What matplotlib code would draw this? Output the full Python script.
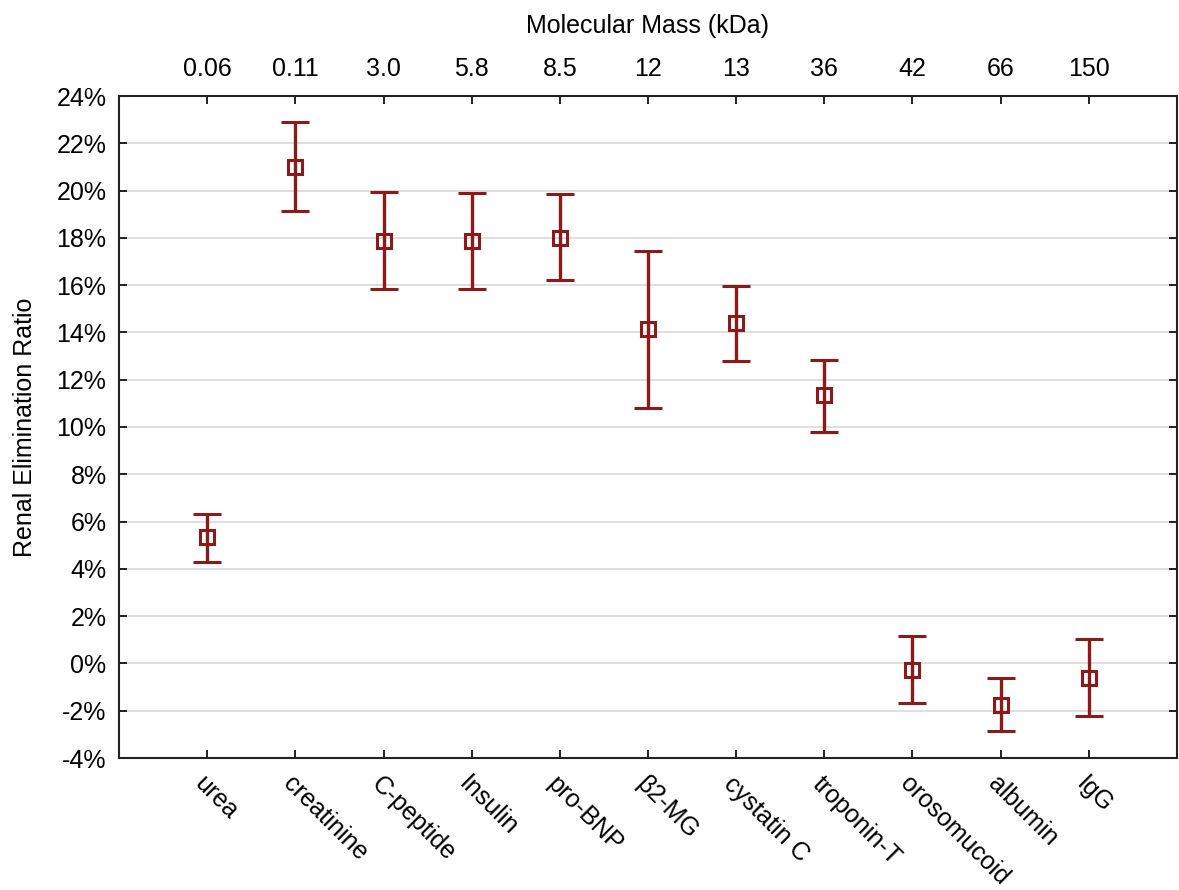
import matplotlib
matplotlib.use("Agg")
import matplotlib.pyplot as plt
from matplotlib.ticker import FuncFormatter

categories = ["urea", "creatinine", "C-peptide", "Insulin", "pro-BNP", "\u03b22-MG",
              "cystatin C", "troponin-T", "orosomucoid", "albumin", "IgG"]
masses = ["0.06", "0.11", "3.0", "5.8", "8.5", "12", "13", "36", "42", "66", "150"]
means = [5.35, 21.0, 17.87, 17.87, 17.99, 14.14, 14.4, 11.35, -0.28, -1.76, -0.62]
upper = [6.32, 22.9, 19.94, 19.9, 19.85, 17.44, 15.96, 12.83, 1.16, -0.62, 1.03]
lower = [4.29, 19.14, 15.84, 15.84, 16.22, 10.80, 12.79, 9.79, -1.68, -2.86, -2.23]

plt.rcParams['font.family'] = ['Liberation Sans', 'DejaVu Sans']
color = "#8B1A1A"
fs = 18

fig = plt.figure(figsize=(11.79, 8.9), dpi=100)
ax = fig.add_axes([119/1179, 1-758/890, (1177-119)/1179, (758-96)/890])

x = list(range(len(categories)))
yerr = [[m - l for m, l in zip(means, lower)], [u - m for m, u in zip(means, upper)]]
ax.errorbar(x, means, yerr=yerr, fmt='s', color=color, ecolor=color,
            elinewidth=2.4, capsize=10, capthick=2.4, markersize=10,
            markerfacecolor='none', markeredgecolor=color, markeredgewidth=2.2, zorder=3)

ax.set_xlim(-1, 11)
ax.set_ylim(-4, 24)
ax.set_yticks(range(-4, 25, 2))
ax.yaxis.set_major_formatter(FuncFormatter(lambda v, p: f"{int(v)}%"))
ax.grid(axis='y', color='#dcdcdc', linewidth=1.3, zorder=0)
ax.set_axisbelow(True)

ax.set_xticks(x)
ax.set_xticklabels(categories, rotation=-45, ha='left', va='top', rotation_mode='anchor')
ax.tick_params(axis='both', direction='in', labelsize=fs, length=6, width=1.2,
               top=True, right=True)
ax.tick_params(axis='x', pad=10)
ax.tick_params(axis='y', pad=9)
for s in ax.spines.values():
    s.set_linewidth(1.5)
    s.set_color('#222222')

ax.set_ylabel("Renal Elimination Ratio", fontsize=fs, labelpad=14)

sec = ax.secondary_xaxis('top')
sec.set_xticks(x)
sec.set_xticklabels(masses)
sec.tick_params(axis='x', direction='in', length=0, labelsize=fs, pad=11)
sec.set_xlabel("Molecular Mass (kDa)", fontsize=fs, labelpad=17)
for s in sec.spines.values():
    s.set_visible(False)

fig.savefig("out.png", dpi=100)
